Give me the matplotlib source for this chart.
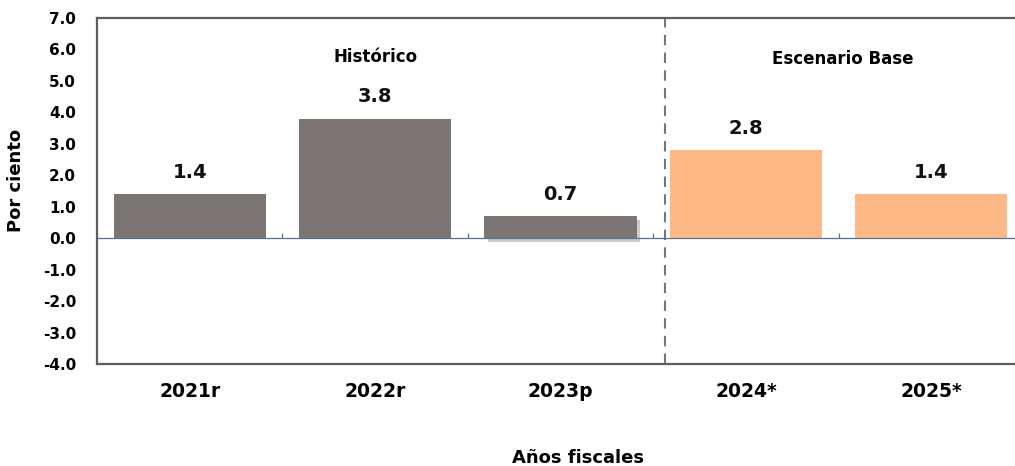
import numpy as np
import matplotlib
matplotlib.use("Agg")
import matplotlib.pyplot as plt
import matplotlib.patheffects as pe

# data
years = ["2021r", "2022r", "2023p", "2024*", "2025*"]
values = [1.4, 3.8, 0.7, 2.8, 1.4]
scenario = ["hist", "hist", "hist", "base", "base"]
yticks = np.arange(-4, 8, 1)

gray = "#7b7574"
orange = "#fdb886"
colors = [gray if s == "hist" else orange for s in scenario]

plt.rcParams["font.family"] = ["DejaVu Sans"]

fig = plt.figure(figsize=(10.15, 4.66), dpi=100)
ax = fig.add_axes([97 / 1015, 1 - 364 / 466, 927 / 1015, 346 / 466])

x = np.arange(len(years))
bars = ax.bar(x, values, width=0.82, color=colors, zorder=3)
# shadow on the 2023p bar
bars[2].set_path_effects([pe.SimplePatchShadow(offset=(2.5, -2.5), shadow_rgbFace="#555555", alpha=0.3),
                          pe.Normal()])

for xi, v in zip(x, values):
    ax.annotate(f"{v:.1f}", (xi, v), xytext=(0, 9), textcoords="offset points",
                ha="center", va="bottom", fontsize=14, fontweight="bold", color="#111111")

ax.set_xlim(-0.5, len(years) - 0.5)
ax.set_ylim(-4, 7)
ax.set_yticks(yticks)
ax.set_yticklabels([f"{t:.1f}" for t in yticks], fontsize=11, fontweight="bold")
ax.set_xticks(x)
ax.set_xticklabels(years, fontsize=13.5, fontweight="bold")
ax.tick_params(axis="y", length=0, pad=15)
ax.tick_params(axis="x", length=0, pad=13)

# zero line with small category boundary ticks
ax.axhline(0, color="#5a6f92", lw=0.9, zorder=4)
bounds = np.arange(0.5, len(years) - 0.5, 1)
ax.vlines(bounds, 0, 0.16, color="#5a6f92", lw=0.9, zorder=4)

# divider between history and base scenario
ax.axvline(2.565, color="#777777", lw=1.5, ls=(0, (5, 3.5)), zorder=2)

ax.text(1, 5.75, "Histórico", ha="center", va="center", fontsize=12, fontweight="bold")
ax.text(3.52, 5.7, "Escenario Base", ha="center", va="center", fontsize=12, fontweight="bold")

for side in ["left", "top", "bottom"]:
    ax.spines[side].set_color("#5e5e5e")
    ax.spines[side].set_linewidth(1.6)
ax.spines["right"].set_visible(False)

fig.text(16 / 1015, 1 - 180 / 466, "Por ciento", rotation=90, ha="center", va="center",
         fontsize=13, fontweight="bold")
fig.text(578 / 1015, 1 - 458 / 466, "Años fiscales", ha="center", va="center",
         fontsize=13, fontweight="bold")

fig.savefig("out.png", dpi=100)
